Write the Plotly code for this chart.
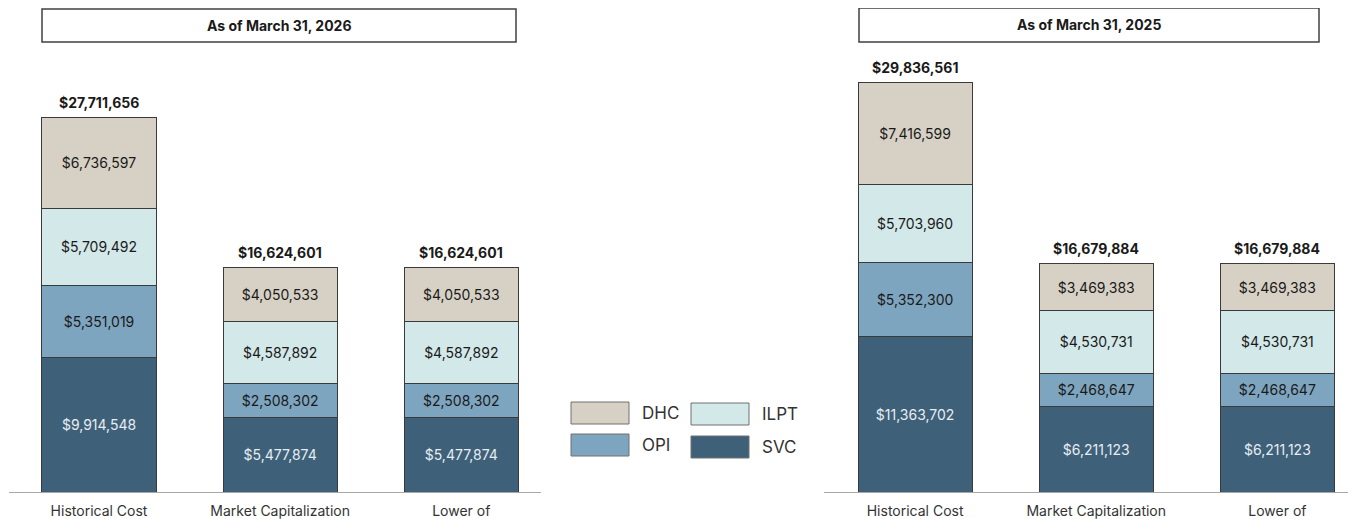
import plotly.graph_objects as go

categories = ["Historical Cost", "Market Capitalization", "Lower of"]
series_names = ["SVC", "OPI", "ILPT", "DHC"]

# As of March 31, 2026
svc_2026 = [9914548, 5477874, 5477874]
opi_2026 = [5351019, 2508302, 2508302]
ilpt_2026 = [5709492, 4587892, 4587892]
dhc_2026 = [6736597, 4050533, 4050533]

# As of March 31, 2025
svc_2025 = [11363702, 6211123, 6211123]
opi_2025 = [5352300, 2468647, 2468647]
ilpt_2025 = [5703960, 4530731, 4530731]
dhc_2025 = [7416599, 3469383, 3469383]

panel_titles = ["As of March 31, 2026", "As of March 31, 2025"]

colors = {"SVC": "#3f6079", "OPI": "#7ea5c0", "ILPT": "#d3e8e8", "DHC": "#d7d1c5"}
text_colors = {"SVC": "#e6edf2", "OPI": "#1a1a1a", "ILPT": "#1a1a1a", "DHC": "#1a1a1a"}

OFF = 8  # body margin of the html page
W, H = 1356 - OFF, 519 - OFF
FONT = "Inter"

def px(x):
    return (x - OFF) / W

def py(y):
    return 1 - (y - OFF) / H

fig = go.Figure()

panels = [
    dict(data={"SVC": svc_2026, "OPI": opi_2026, "ILPT": ilpt_2026, "DHC": dhc_2026},
         xaxis="x", yaxis="y"),
    dict(data={"SVC": svc_2025, "OPI": opi_2025, "ILPT": ilpt_2025, "DHC": dhc_2025},
         xaxis="x2", yaxis="y2"),
]

xs = list(range(len(categories)))
for p in panels:
    for s in series_names:
        vals = p["data"][s]
        fig.add_trace(go.Bar(
            x=xs, y=vals, name=s,
            marker=dict(color=colors[s], line=dict(color="#3a3a3a", width=1)),
            width=0.63,
            text=[f"${v:,.0f}" for v in vals],
            textposition="inside", insidetextanchor="middle",
            textfont=dict(family=FONT, size=14, color=text_colors[s]),
            constraintext="none",
            xaxis=p["xaxis"], yaxis=p["yaxis"], showlegend=False,
            hoverinfo="skip",
        ))
    totals = [sum(p["data"][s][i] for s in series_names) for i in xs]
    for i, t in zip(xs, totals):
        fig.add_annotation(
            x=i, y=t, xref=p["xaxis"], yref=p["yaxis"],
            text=f"<b>${t:,.0f}</b>", showarrow=False,
            yanchor="middle", yshift=15,
            font=dict(family=FONT, size=14, color="#1a1a1a"),
        )

base_y = 492
xaxis_common = dict(
    tickmode="array", tickvals=xs, ticktext=categories,
    showline=True, linecolor="#a8a8a8", linewidth=1,
    showgrid=False, zeroline=False, ticks="",
    tickfont=dict(family=FONT, size=14, color="#333333"),
    ticklabelstandoff=6, fixedrange=True,
)
fig.update_layout(
    width=W, height=H,
    margin=dict(l=0, r=0, t=0, b=0),
    paper_bgcolor="white", plot_bgcolor="white",
    barmode="stack",
    showlegend=False,
    xaxis=dict(**xaxis_common, domain=[px(9), px(541)], range=[-0.497, 2.44], anchor="y"),
    xaxis2=dict(**xaxis_common, domain=[px(824), px(1348)], range=[-0.503, 2.39], anchor="y2"),
    yaxis=dict(domain=[py(base_y), 1], range=[0, (base_y - OFF) / 13.53 * 1e6],
               visible=False, fixedrange=True),
    yaxis2=dict(domain=[py(base_y), 1], range=[0, (base_y - OFF) / 13.71 * 1e6],
                visible=False, fixedrange=True, anchor="x2"),
)

# Panel title boxes
boxes = [(42, 516, 9, 42), (859, 1319, 8, 42)]
for (x0, x1, y0, y1), t in zip(boxes, panel_titles):
    fig.add_shape(type="rect", xref="paper", yref="paper",
                  x0=px(x0), x1=px(x1), y0=py(y1), y1=py(y0),
                  line=dict(color="#404040", width=1.5), fillcolor="white")
    fig.add_annotation(xref="paper", yref="paper", x=px((x0 + x1) / 2), y=py((y0 + y1) / 2),
                       text=f"<b>{t}</b>", showarrow=False,
                       font=dict(family=FONT, size=14, color="#1a1a1a"),
                       xanchor="center", yanchor="middle")

# Custom legend
legend_items = [("DHC", 571, 402), ("ILPT", 691, 403), ("OPI", 571, 434), ("SVC", 691, 436)]
for name, lx, ly in legend_items:
    fig.add_shape(type="rect", xref="paper", yref="paper",
                  x0=px(lx), x1=px(lx + 58), y0=py(ly + 22), y1=py(ly),
                  line=dict(color="#707070", width=1), fillcolor=colors[name])
    fig.add_annotation(xref="paper", yref="paper", x=px(lx + 69), y=py(ly + 11),
                       text=name, showarrow=False, xanchor="left", yanchor="middle",
                       font=dict(family=FONT, size=17, color="#333333"))

fig.write_html("out.html")
